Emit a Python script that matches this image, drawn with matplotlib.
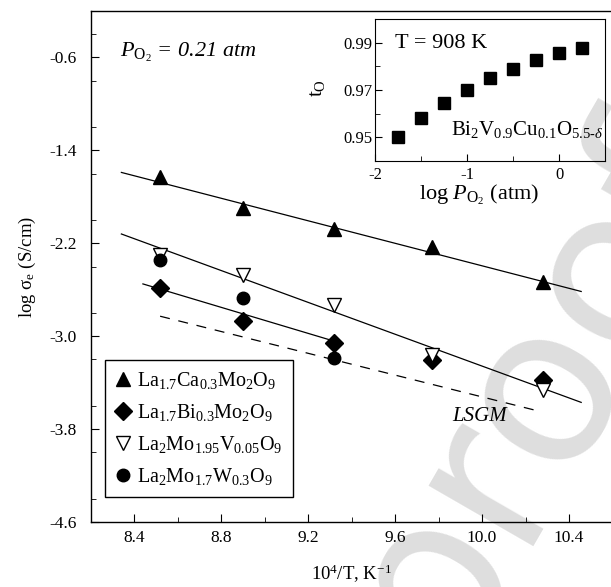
import matplotlib
matplotlib.use('Agg')
import matplotlib.pyplot as plt
from matplotlib.ticker import MultipleLocator

plt.rcParams['font.family'] = ['Liberation Serif', 'DejaVu Serif']
plt.rcParams['mathtext.fontset'] = 'custom'
plt.rcParams['mathtext.rm'] = 'Liberation Serif'
plt.rcParams['mathtext.it'] = 'Liberation Serif:italic'
plt.rcParams['mathtext.bf'] = 'Liberation Serif:bold'

# Datos (10^4/T, log sigma_e)
x_ca = [8.52, 8.90, 9.32, 9.77, 10.28]
y_ca = [-1.63, -1.90, -2.08, -2.235, -2.535]

x_bi = [8.52, 8.90, 9.32, 9.77, 10.28]
y_bi = [-2.585, -2.865, -3.06, -3.207, -3.38]

x_v = [8.52, 8.90, 9.32, 9.77, 10.28]
y_v = [-2.30, -2.477, -2.734, -3.164, -3.46]

x_w = [8.52, 8.90, 9.32]
y_w = [-2.34, -2.673, -3.188]

# rectas de ajuste (extremos)
fit_ca_x = [8.342, 10.456]
fit_ca_y = [-1.59, -2.615]
fit_v_x = [8.342, 10.456]
fit_v_y = [-2.12, -3.57]
fit_bi_x = [8.441, 9.317]
fit_bi_y = [-2.55, -3.041]
lsgm_x = [8.52, 10.25]
lsgm_y = [-2.828, -3.64]

# inset
logpo2 = [-1.75, -1.5, -1.25, -1.0, -0.75, -0.5, -0.25, 0.0, 0.25]
t_o = [0.950, 0.958, 0.9645, 0.970, 0.975, 0.979, 0.9827, 0.9858, 0.9878]

fig = plt.figure(figsize=(6.11, 5.87), dpi=100)

# marca de agua
fig.text(535.5 / 611, 1 - 386 / 587, 'proof', fontsize=160, family='DejaVu Sans',
         color='#dedede', rotation=60, rotation_mode='anchor',
         ha='center', va='center', zorder=-1)

ax = fig.add_axes([90.5 / 611, 65 / 587, 522 / 611, 511 / 587])
ax.patch.set_alpha(0)

ax.plot(fit_ca_x, fit_ca_y, color='black', lw=0.9)
ax.plot(fit_v_x, fit_v_y, color='black', lw=0.9)
ax.plot(fit_bi_x, fit_bi_y, color='black', lw=0.9)
ax.plot(lsgm_x, lsgm_y, color='black', lw=0.9, ls=(0, (8, 7)))

ax.plot(x_ca, y_ca, '^', color='black', ms=10, ls='none',
        label=r'La$_{1.7}$Ca$_{0.3}$Mo$_{2}$O$_{9}$')
ax.plot(x_bi, y_bi, 'D', color='black', ms=9, ls='none',
        label=r'La$_{1.7}$Bi$_{0.3}$Mo$_{2}$O$_{9}$')
ax.plot(x_v, y_v, 'v', mfc='white', mec='black', mew=1.0, ms=10.5, ls='none',
        label=r'La$_{2}$Mo$_{1.95}$V$_{0.05}$O$_{9}$')
ax.plot(x_w, y_w, 'o', color='black', ms=9, ls='none',
        label=r'La$_{2}$Mo$_{1.7}$W$_{0.3}$O$_{9}$')

ax.set_xlim(8.2, 10.6)
ax.set_ylim(-4.6, -0.2)
ax.xaxis.set_minor_locator(MultipleLocator(0.2))
ax.yaxis.set_minor_locator(MultipleLocator(0.4))
ax.set_yticks([-0.6, -1.4, -2.2, -3.0, -3.8, -4.6])
ax.set_yticklabels(['-0.6', '-1.4', '-2.2', '-3.0', '-3.8', '-4.6'])
ax.set_xticks([8.4, 8.8, 9.2, 9.6, 10.0, 10.4])
ax.set_xticklabels(['8.4', '8.8', '9.2', '9.6', '10.0', '10.4'])
ax.tick_params(which='both', direction='in', top=False, right=False, labelsize=12.5)
ax.tick_params(which='major', length=5.5)
ax.tick_params(which='minor', length=3.5)
ax.tick_params(axis='x', pad=6)
ax.tick_params(axis='y', pad=10)
for s in ax.spines.values():
    s.set_linewidth(1.0)

ax.set_xlabel(r'10$^{4}$/T, K$^{-1}$', fontsize=13.5, labelpad=12)
ax.set_ylabel(r'log $\mathrm{\sigma}_{\mathrm{e}}$ (S/cm)', fontsize=13.5, labelpad=8)

ax.text(8.336, -0.554, r'$\mathit{P}_{\mathrm{O}_2}$ = 0.21 atm', fontsize=16,
        style='italic', va='center')
ax.text(9.99, -3.692, 'LSGM', fontsize=15, style='italic', ha='center', va='center')

leg = ax.legend(loc='lower left', bbox_to_anchor=(0.028, 0.049), fontsize=14.5,
                frameon=True, fancybox=False, edgecolor='black', framealpha=1,
                handlelength=0.8, handletextpad=0.3, borderpad=0.5,
                labelspacing=0.55, borderaxespad=0)
leg.get_frame().set_linewidth(1.0)

# inset
ins = fig.add_axes([375 / 611, 1 - 161 / 587, 230 / 611, 142 / 587])
ins.patch.set_alpha(0)
ins.plot(logpo2, t_o, 's', color='black', ms=8)
ins.set_xlim(-2, 0.5)
ins.set_ylim(0.94, 1.0)
ins.set_xticks([-2, -1, 0])
ins.set_xticklabels(['-2', '-1', '0'])
ins.xaxis.set_minor_locator(MultipleLocator(0.5))
ins.set_yticks([0.95, 0.97, 0.99])
ins.set_yticklabels(['0.95', '0.97', '0.99'])
ins.yaxis.set_minor_locator(MultipleLocator(0.01))
ins.tick_params(which='both', direction='in', labelsize=12)
ins.tick_params(which='major', length=5)
ins.tick_params(which='minor', length=3.5)
ins.tick_params(axis='x', pad=4)
ins.tick_params(axis='y', pad=2)
ins.text(0.452, -0.239, r'log $\mathit{P}_{\mathrm{O}_2}$ (atm)', fontsize=16,
         transform=ins.transAxes, ha='center', va='center')
ins.text(-0.248, 0.514, r't$_{\mathrm{O}}$', fontsize=15, rotation=90,
         transform=ins.transAxes, ha='center', va='center')
ins.text(0.087, 0.83, 'T = 908 K', transform=ins.transAxes, fontsize=16, va='center')
ins.text(0.995, 0.22, r'Bi$_{2}$V$_{0.9}$Cu$_{0.1}$O$_{5.5\text{-}\delta}$',
         transform=ins.transAxes, fontsize=15, ha='right', va='center')

fig.savefig('out.png', dpi=100)
